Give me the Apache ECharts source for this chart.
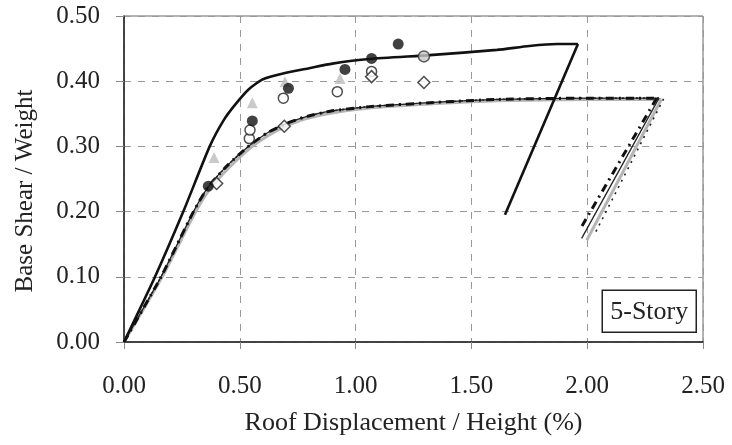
<!DOCTYPE html>
<html>
<head>
<meta charset="utf-8">
<script src="https://cdn.jsdelivr.net/npm/echarts@6/dist/echarts.min.js"></script>
<style>html,body{margin:0;padding:0;background:#fff}#c{width:732px;height:445px}</style>
</head>
<body>
<div id="c"></div>
<script>
// Tick labels
const xTicks = ['0.00','0.50','1.00','1.50','2.00','2.50'];
const yTicks = ['0.00','0.10','0.20','0.30','0.40','0.50'];

// Upper pushover curve: loading branch and unloading branch
const upperLoading = [[0,0],[0.134,0.1],[0.256,0.2],[0.37,0.3],[0.43,0.34],[0.48,0.364],[0.54,0.388],[0.60,0.403],[0.70,0.413],[0.80,0.42],[0.90,0.427],[1.06,0.434],[1.32,0.44],[1.61,0.448],[1.75,0.454],[1.87,0.457],[1.96,0.457]];
const upperUnload = [[1.96,0.457],[1.645,0.195]];

// Lower curves: loading branches
const lowerLoading = [[0,0],[0.16,0.1],[0.30,0.2],[0.364,0.238],[0.45,0.272],[0.537,0.30],[0.62,0.321],[0.70,0.335],[0.78,0.345],[0.89,0.354],[1.06,0.361],[1.32,0.367],[1.61,0.372],[2.0,0.374],[2.31,0.374]];
const grayLoading = [[0,0],[0.165,0.1],[0.305,0.197],[0.37,0.234],[0.455,0.268],[0.54,0.296],[0.625,0.317],[0.70,0.331],[0.78,0.342],[0.89,0.351],[1.06,0.359],[1.32,0.365],[1.61,0.37],[2.0,0.372],[2.32,0.372]];
// Unloading branches
const dashedUnload = [[2.30,0.374],[1.976,0.177]];
const thinUnload = [[2.31,0.374],[1.976,0.159]];
const grayUnload = [[2.32,0.372],[1.998,0.156]];
const dottedUnload = [[2.33,0.373],[2.034,0.167]];

// Scatter markers
const blackCircles = [[0.364,0.239],[0.554,0.339],[0.71,0.389],[0.954,0.418],[1.069,0.435],[1.184,0.457]];
const openCircles = [[0.541,0.312],[0.544,0.325],[0.688,0.374],[0.921,0.384],[1.069,0.415]];
const grayTriangles = [[0.389,0.283],[0.554,0.367],[0.695,0.399],[0.933,0.404]];
const openDiamonds = [[0.40,0.243],[0.692,0.331],[1.069,0.407],[1.295,0.398]];
const grayCircles = [[1.295,0.438]];

const FONT = '"Liberation Serif","Times New Roman",serif';
const chart = echarts.init(document.getElementById('c'));

function line(data, style, z, smooth) {
  return {type:'line', data:data, showSymbol:false, smooth:smooth || false, lineStyle:style, z:z};
}

chart.setOption({
  animation: false,
  backgroundColor: '#fff',
  grid: {left:124, right:29, top:16, bottom:103, show:true, borderColor:'#666', borderWidth:1},
  xAxis: {
    type:'value', min:0, max:2.5, interval:0.5,
    name:'Roof Displacement / Height (%)', nameLocation:'middle', nameGap:68,
    nameTextStyle:{fontFamily:FONT, fontSize:26, color:'#222'},
    axisLine:{show:true, lineStyle:{color:'#222', width:1.5}},
    axisTick:{show:true, inside:false, length:7, lineStyle:{color:'#888'}},
    axisLabel:{margin:32, fontFamily:FONT, fontSize:25, color:'#222', formatter:(v)=>xTicks[Math.round(v/0.5)]},
    splitLine:{show:true, lineStyle:{color:'#999', type:[7,7], width:1}}
  },
  yAxis: {
    type:'value', min:0, max:0.5, interval:0.1,
    name:'Base Shear / Weight', nameLocation:'middle', nameGap:86, nameRotate:90,
    nameTextStyle:{fontFamily:FONT, fontSize:25, color:'#222', padding:[0,24,0,0]},
    axisLine:{show:true, lineStyle:{color:'#222', width:1.5}},
    axisTick:{show:true, inside:false, length:8, lineStyle:{color:'#888'}},
    axisLabel:{margin:24, fontFamily:FONT, fontSize:25, color:'#222', formatter:(v)=>yTicks[Math.round(v/0.1)]},
    splitLine:{show:true, lineStyle:{color:'#999', type:[7,7], width:1}}
  },
  series: [
    line(grayLoading, {color:'#b5b5b5', width:3}, 2, 0.2),
    line(grayUnload, {color:'#b5b5b5', width:3}, 2),
    line(lowerLoading, {color:'#222', width:1.3}, 3, 0.2),
    line(thinUnload, {color:'#222', width:1.3}, 3),
    line(lowerLoading, {color:'#222', width:1.6, type:[2,5]}, 3, 0.2),
    line(dottedUnload, {color:'#222', width:1.6, type:[2,5]}, 3),
    line(lowerLoading, {color:'#111', width:3, type:[8,5,2,5]}, 4, 0.2),
    line(dashedUnload, {color:'#111', width:3, type:[8,5,2,5]}, 4),
    line(upperLoading, {color:'#111', width:2.6}, 4, 0.2),
    line(upperUnload, {color:'#111', width:2.6}, 4),
    {type:'scatter', data:grayTriangles, symbol:'triangle', symbolSize:11, itemStyle:{color:'#bdbdbd'}, z:5},
    {type:'scatter', data:openCircles, symbol:'circle', symbolSize:10, itemStyle:{color:'#fff', borderColor:'#222', borderWidth:1.5}, z:6},
    {type:'scatter', data:openDiamonds, symbol:'diamond', symbolSize:12, itemStyle:{color:'#fff', borderColor:'#222', borderWidth:1.5}, z:6},
    {type:'scatter', data:grayCircles, symbol:'circle', symbolSize:11, itemStyle:{color:'#c8c8c8', borderColor:'#333', borderWidth:1.5}, z:6},
    {type:'scatter', data:blackCircles, symbol:'circle', symbolSize:11, itemStyle:{color:'#111'}, z:7}
  ],
  graphic: [{
    type:'group', right:35, bottom:112,
    children:[
      {type:'rect', shape:{x:0,y:0,width:94,height:42}, style:{fill:'#fff', stroke:'#222', lineWidth:1.5}},
      {type:'text', x:47, y:22, style:{text:'5-Story', font:'26px '+FONT, fill:'#222', align:'center', verticalAlign:'middle'}}
    ]
  }]
});
</script>
</body>
</html>
